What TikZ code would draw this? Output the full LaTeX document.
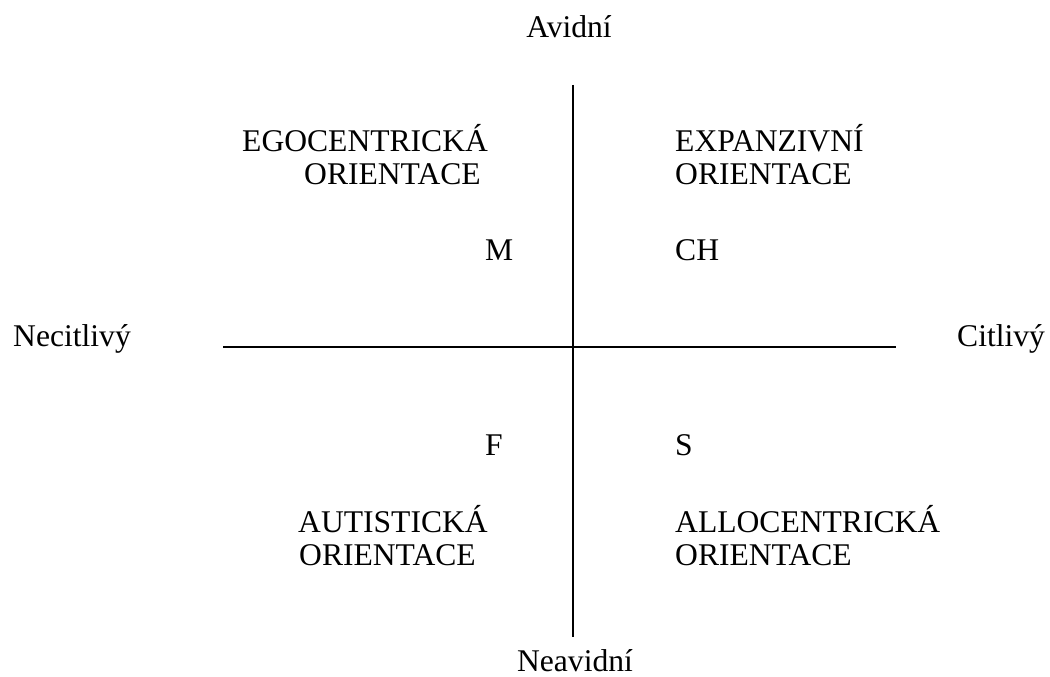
\documentclass[tikz,border=0pt]{standalone}
\usepackage{fontspec}
\setmainfont{Liberation Serif}
\usepackage{tikz}

\tikzset{
  lbl/.style={inner sep=0pt, anchor=base west, font=\fontsize{31.6}{36}\selectfont},
  axis/.style={line width=1.6pt}
}

\begin{document}
\begin{tikzpicture}[x=1pt, y=-1pt]
			\useasboundingbox (0,0) rectangle (1050,677);

			% Axis end points
			\coordinate (top) at (573,85);
			\coordinate (bottom) at (573,637);
			\coordinate (left) at (223,347);
			\coordinate (right) at (896,347);

			% Draw the two axes
			\draw[axis] (top) -- (bottom);
			\draw[axis] (left) -- (right);

			% Axis labels
			\node[lbl, anchor=base] (avid) at (569,38) {Avidní};
			\node[lbl, anchor=base] (neavid) at (575,671) {Neavidní};
			\node[lbl] (necit) at (13,346) {Necitlivý};
			\node[lbl] (cit) at (957,346) {Citlivý};

			% Macro for a two-line quadrant label.
			% Usage: \orient{name}{x1}{x2}{y}{First line}
			\newcommand{\orient}[5]{
				\node[lbl] (#1a) at (#2,#4) {#5};
				\node[lbl] (#1b) at (#3,#4+33) {ORIENTACE};
			}

			\orient{ego}{242}{304}{151}{EGOCENTRICKÁ};
			\orient{exp}{675}{675}{151}{EXPANZIVNÍ};
			\orient{aut}{298}{299}{532}{AUTISTICKÁ};
			\orient{allo}{675}{675}{532}{ALLOCENTRICKÁ};

			% Letters near the centre
			\node[lbl] (m) at (485,260) {M};
			\node[lbl] (ch) at (675,260) {CH};
			\node[lbl] (f) at (485,455) {F};
			\node[lbl] (s) at (675,455) {S};
		\end{tikzpicture}
\end{document}
